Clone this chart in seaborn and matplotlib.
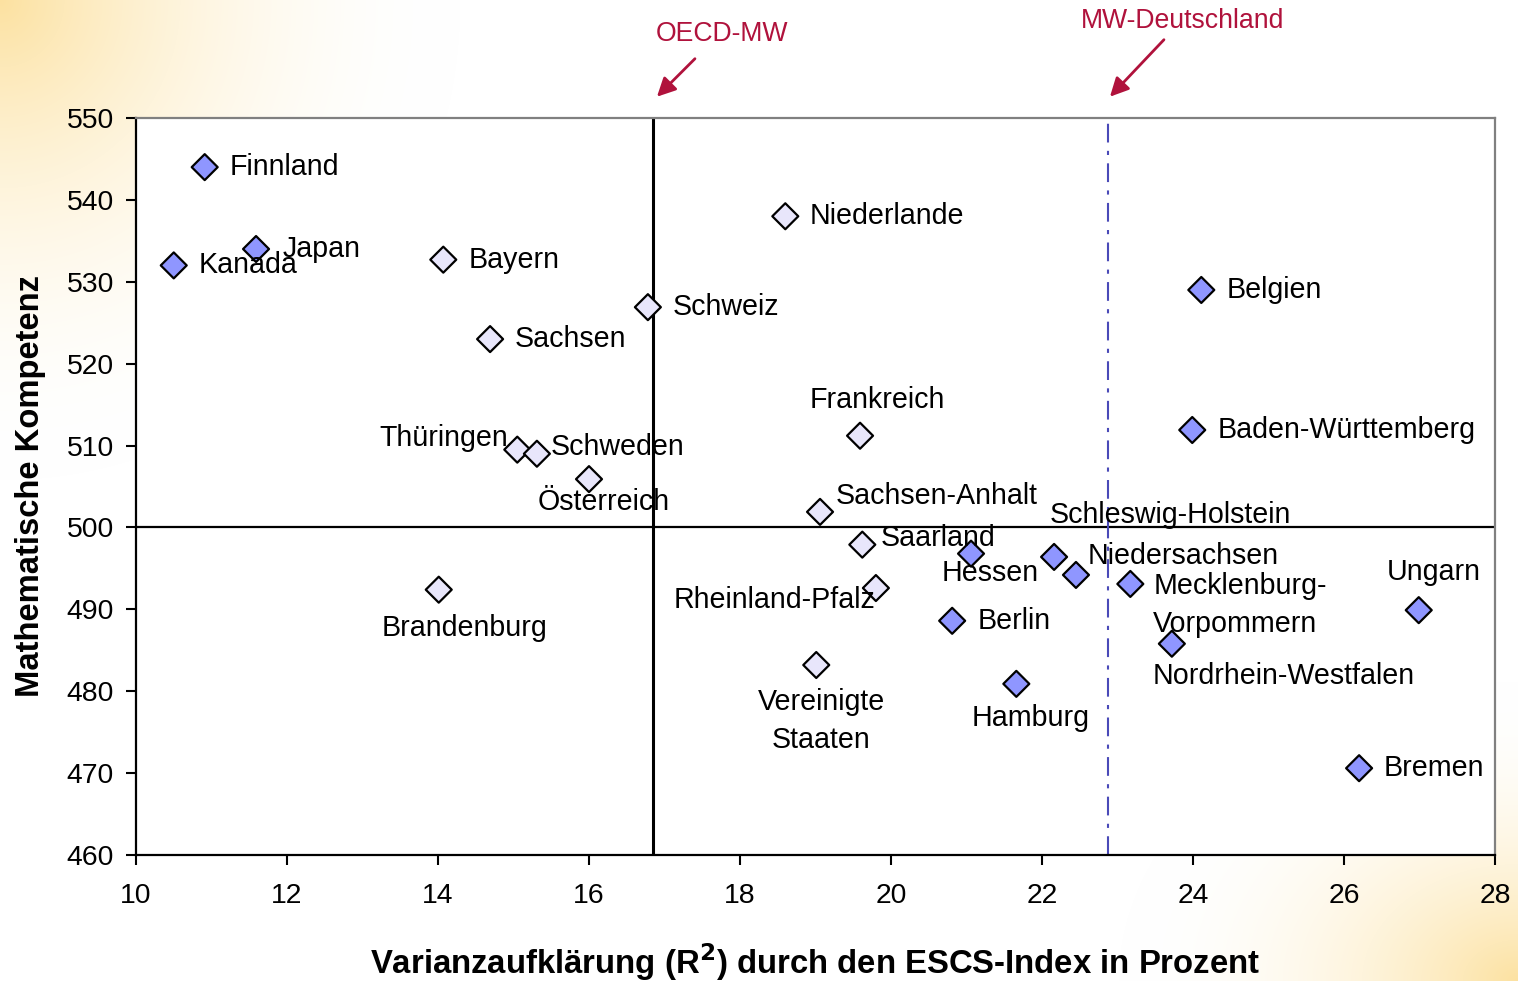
import numpy as np
import pandas as pd
import matplotlib
matplotlib.use("Agg")
import matplotlib.pyplot as plt
import seaborn as sns

# ---------------- data ----------------
names = ["Finnland", "Japan", "Kanada", "Bayern", "Sachsen", "Schweiz", "Niederlande",
         "Thüringen", "Schweden", "Österreich", "Frankreich", "Sachsen-Anhalt", "Saarland",
         "Rheinland-Pfalz", "Brandenburg", "Vereinigte\nStaaten", "Hessen",
         "Schleswig-Holstein", "Niedersachsen", "Mecklenburg-\nVorpommern",
         "Nordrhein-Westfalen", "Berlin", "Hamburg", "Belgien", "Baden-Württemberg",
         "Ungarn", "Bremen"]
r2 = [10.91, 11.59, 10.50, 14.07, 14.69, 16.78, 18.60,
      15.05, 15.31, 16.00, 19.59, 19.06, 19.62,
      19.80, 14.01, 19.01, 21.06,
      22.16, 22.45, 23.17,
      23.72, 20.81, 21.66, 24.11, 23.99,
      26.99, 26.20]
math_score = [544.0, 534.0, 532.0, 532.7, 523.0, 526.9, 538.0,
              509.5, 509.0, 505.9, 511.2, 501.9, 497.9,
              492.6, 492.4, 483.2, 496.8,
              496.4, 494.2, 493.1,
              485.8, 488.6, 480.9, 529.0, 511.9,
              489.9, 470.6]
group = ["A", "A", "A", "B", "B", "B", "B",
         "B", "B", "B", "B", "B", "B",
         "B", "B", "B", "A",
         "A", "A", "A",
         "A", "A", "A", "A", "A",
         "A", "A"]
oecd_mw = 16.85
mw_deutschland = 22.87
math_mean = 500
x_ticks = [10, 12, 14, 16, 18, 20, 22, 24, 26, 28]
y_ticks = [460, 470, 480, 490, 500, 510, 520, 530, 540, 550]

df = pd.DataFrame({"name": names, "r2": r2, "score": math_score, "group": group})

# label placement (offset in pixels, alignment)
label_style = {
    "Finnland": (25, 0, "left"), "Japan": (27, 0, "left"), "Kanada": (25, 0, "left"),
    "Bayern": (25, 0, "left"), "Sachsen": (25, 0, "left"), "Schweiz": (25, 0, "left"),
    "Niederlande": (24, 0, "left"), "Thüringen": (-9, 12, "right"),
    "Schweden": (14, 7, "left"), "Österreich": (15, -23, "center"),
    "Frankreich": (17, 36, "center"), "Sachsen-Anhalt": (16, 16, "left"),
    "Saarland": (18, 7, "left"), "Rheinland-Pfalz": (-1, -12, "right"),
    "Brandenburg": (26, -38, "center"), "Vereinigte\nStaaten": (5, -56, "center"),
    "Hessen": (19, -19, "center"), "Schleswig-Holstein": (-4, 42, "left"),
    "Niedersachsen": (12, 19, "left"), "Mecklenburg-\nVorpommern": (23, -21, "left"),
    "Nordrhein-Westfalen": (-19, -32, "left"), "Berlin": (25, 0, "left"),
    "Hamburg": (14, -34, "center"), "Belgien": (25, 0, "left"),
    "Baden-Württemberg": (25, 0, "left"), "Ungarn": (15, 38, "center"),
    "Bremen": (25, 0, "left"),
}

sns.set_theme(style="white")
plt.rcParams["font.family"] = ["Liberation Sans", "DejaVu Sans"]
plt.rcParams["text.color"] = "black"
plt.rcParams["axes.labelcolor"] = "black"
plt.rcParams["xtick.color"] = "black"
plt.rcParams["ytick.color"] = "black"

W, H = 1518, 981
fig = plt.figure(figsize=(W / 100, H / 100), dpi=100)
fig.patch.set_facecolor("white")

# background gradient
bg = fig.add_axes([0, 0, 1, 1], zorder=-10)
bg.axis("off")
yy, xx = np.mgrid[0:H, 0:W]
r1 = np.sqrt((xx / 460.0) ** 2 + (yy / 480.0) ** 2)
r2g = np.sqrt(((W - xx) / 400.0) ** 2 + ((H - yy) / 300.0) ** 2)
a = np.maximum(np.clip(1 - r1, 0, 1) ** 2.0, np.clip(1 - r2g, 0, 1) ** 2.0) * 0.9
warm = np.array([252, 222, 150]) / 255.0
img = np.ones((H, W, 3)) * (1 - a[..., None]) + warm * a[..., None]
bg.imshow(img, aspect="auto", extent=[0, 1, 0, 1])
bg.set_xlim(0, 1); bg.set_ylim(0, 1)

ax = fig.add_axes([136 / W, 1 - 855 / H, (1495 - 136) / W, (855 - 118) / H])
ax.set_facecolor("white")

ax.axhline(math_mean, color="black", lw=1.6, zorder=1)
ax.axvline(oecd_mw, color="black", lw=2.2, zorder=1)
ax.axvline(mw_deutschland, color="#4a4ab8", lw=1.5, ls=(0, (9, 4, 2, 4)), zorder=1)

sns.scatterplot(data=df, x="r2", y="score", hue="group",
                palette={"A": "#8f96ff", "B": "#e8e6fb"},
                marker="D", s=175, edgecolor="black", linewidth=1.6,
                legend=False, ax=ax, zorder=3)

for n, xv, yv in zip(names, r2, math_score):
    dx, dy, ha = label_style[n]
    ax.annotate(n, (xv, yv), xytext=(dx, dy), textcoords="offset pixels",
                ha=ha, va="center", fontsize=20.6, color="black",
                linespacing=1.42, multialignment=ha,
                zorder=4, annotation_clip=False)

ax.set_xlim(10, 28)
ax.set_ylim(460, 550)
ax.set_xticks(x_ticks)
ax.set_yticks(y_ticks)
ax.tick_params(axis="x", which="major", direction="out", length=7, width=1.5,
               color="black", labelsize=20.4, pad=13, bottom=True)
ax.tick_params(axis="y", which="major", direction="out", length=7, width=1.5,
               color="black", labelsize=20.4, pad=9, left=True)
for s in ["left", "bottom"]:
    ax.spines[s].set_color("black"); ax.spines[s].set_linewidth(1.6)
for s in ["top", "right"]:
    ax.spines[s].set_color("#808080"); ax.spines[s].set_linewidth(1.6)

ax.set_xlabel("Varianzaufklärung (R$^\\mathbf{2}$) durch den ESCS-Index in Prozent",
              fontsize=23.7, fontweight="bold", labelpad=23)
ax.set_ylabel("Mathematische Kompetenz", fontsize=23.6, fontweight="bold", labelpad=15)

red = "#b0123c"
for xv, tail, txt, name in [(oecd_mw + 0.05, (38, 38), (65, 63), "OECD-MW"),
                            (mw_deutschland + 0.03, (54, 57), (73, 76), "MW-Deutschland")]:
    ax.annotate("", xy=(xv, 552.6), xytext=tail, textcoords="offset pixels",
                arrowprops=dict(arrowstyle="-|>", color=red, lw=2, mutation_scale=28,
                                shrinkA=0, shrinkB=0),
                annotation_clip=False)
    ax.annotate(name, xy=(xv, 552.6), xytext=txt, textcoords="offset pixels",
                ha="center", va="center", fontsize=19.2, color=red, annotation_clip=False)

fig.savefig("out.png", dpi=100)
